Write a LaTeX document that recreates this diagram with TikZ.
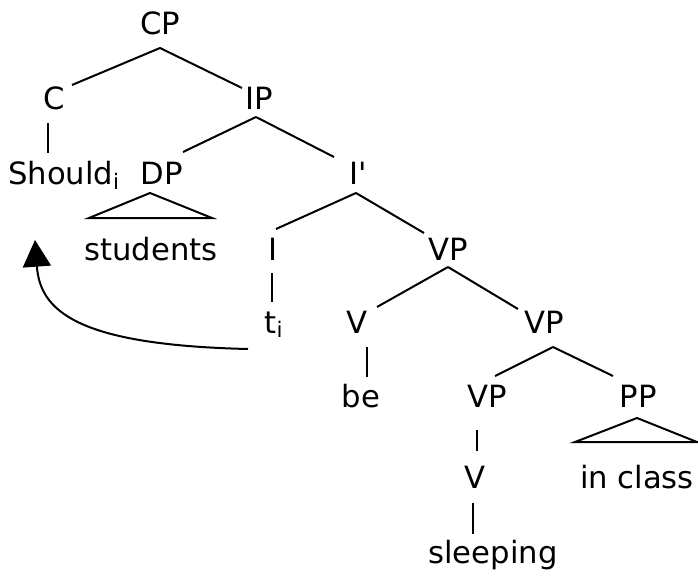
\documentclass[tikz,border=0pt]{standalone}
\usepackage{fontspec}
\newfontfamily\treefont{DejaVu Sans}
\usetikzlibrary{arrows.meta}

\tikzset{
  cat/.style={inner sep=0pt, anchor=base, font=\treefont\fontsize{23}{28}\selectfont},
  branch/.style={line width=1.5pt},
  move/.style={line width=1.5pt, -{Triangle[length=20pt, width=21pt]}}
}

\begin{document}
\begin{tikzpicture}[x=0.75pt, y=-0.75pt]
  \useasboundingbox (0,0) rectangle (698,577);

  % Kategorien
  \node[cat] (cp) at (160,35) {CP};
  \node[cat] (c) at (54,110) {C};
  \node[cat] (ip) at (259,110) {IP};
  \node[cat] (should) at (64,185) {Should\textsubscript{i}};
  \node[cat] (dp) at (162,185) {DP};
  \node[cat] (ibar) at (358,185) {I'};
  \node[cat] (students) at (151,260) {students};
  \node[cat] (infl) at (273,260) {I};
  \node[cat] (vp1) at (448,260) {VP};
  \node[cat] (ti) at (274,333) {t\textsubscript{i}};
  \node[cat] (v1) at (357,333) {V};
  \node[cat] (vp2) at (544,333) {VP};
  \node[cat] (be) at (361,407) {be};
  \node[cat] (vp3) at (487,407) {VP};
  \node[cat] (pp) at (638,407) {PP};
  \node[cat] (v2) at (475,488) {V};
  \node[cat] (inclass) at (637,488) {in class};
  \node[cat] (sleeping) at (493,563) {sleeping};

  % Aeste
  \draw[branch] ([shift={(0,13)}]cp.base) -- ([shift={(18,-25)}]c.base);
  \draw[branch] ([shift={(0,13)}]cp.base) -- ([shift={(-17,-22)}]ip.base);
  \draw[branch] ([shift={(-6,13)}]c.base) -- ([shift={(-16,-32)}]should.base);
  \draw[branch] ([shift={(-3,7)}]ip.base) -- ([shift={(21,-33)}]dp.base);
  \draw[branch] ([shift={(-3,7)}]ip.base) -- ([shift={(-24,-28)}]ibar.base);
  \draw[branch] ([shift={(-12,8)}]dp.base) -- ([shift={(-62,-42)}]students.base)
    -- ([shift={(61,-42)}]students.base) -- cycle;
  \draw[branch] ([shift={(-2,8)}]ibar.base) -- ([shift={(3,-31)}]infl.base);
  \draw[branch] ([shift={(-2,8)}]ibar.base) -- ([shift={(-24,-27)}]vp1.base);
  \draw[branch] ([shift={(-1,13)}]infl.base) -- ([shift={(-2,-31)}]ti.base);
  \draw[branch] ([shift={(0,7)}]vp1.base) -- ([shift={(20,-26)}]v1.base);
  \draw[branch] ([shift={(0,7)}]vp1.base) -- ([shift={(-26,-24)}]vp2.base);
  \draw[branch] ([shift={(10,14)}]v1.base) -- ([shift={(6,-30)}]be.base);
  \draw[branch] ([shift={(9,14)}]vp2.base) -- ([shift={(8,-31)}]vp3.base);
  \draw[branch] ([shift={(9,14)}]vp2.base) -- ([shift={(-25,-31)}]pp.base);
  \draw[branch] ([shift={(-10,23)}]vp3.base) -- ([shift={(2,-37)}]v2.base);
  \draw[branch] ([shift={(-1,11)}]pp.base) -- ([shift={(-62,-46)}]inclass.base)
    -- ([shift={(60,-46)}]inclass.base) -- cycle;
  \draw[branch] ([shift={(-2,15)}]v2.base) -- ([shift={(-20,-29)}]sleeping.base);

  % Bewegung von I nach C
  \draw[move] ([shift={(-26,16)}]ti.base) .. controls (75,345) and (40,310) .. ([shift={(-29,55)}]should.base);
\end{tikzpicture}
\end{document}
